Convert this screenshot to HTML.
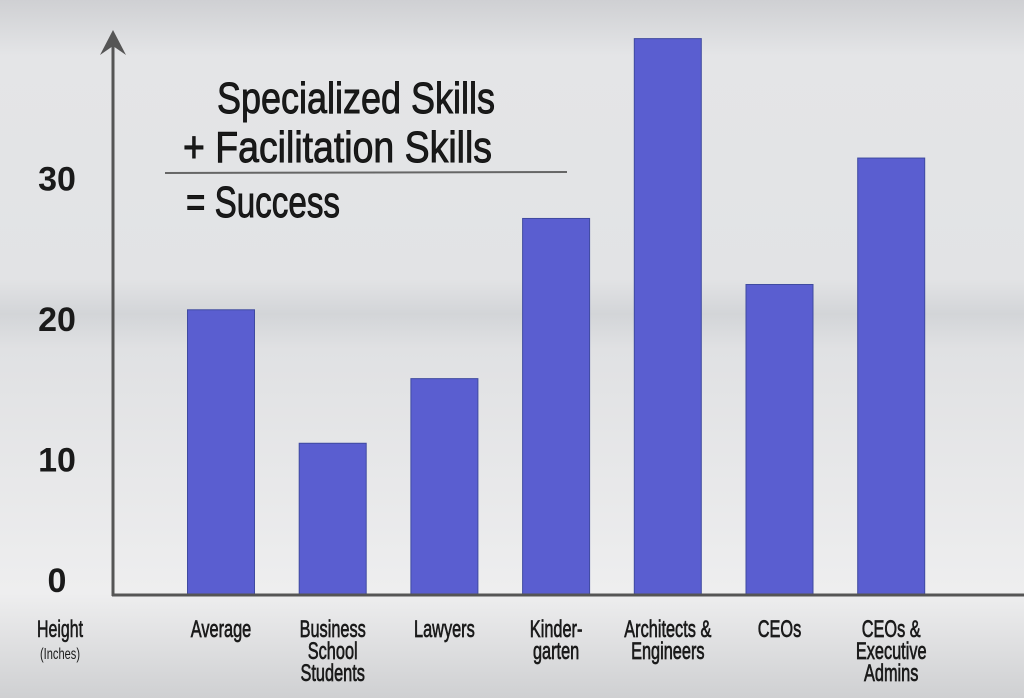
<!DOCTYPE html>
<html><head><meta charset="utf-8"><style>
html,body{margin:0;padding:0;width:1024px;height:698px;overflow:hidden}
svg{display:block}
text{font-family:"Liberation Sans Narrow","Liberation Sans",sans-serif;fill:#1a1a1a}
</style></head><body>
<svg id="chart" width="1024" height="698" viewBox="0 0 1024 698">
<defs>
<linearGradient id="bg" x1="0" y1="0" x2="0" y2="1">
<stop offset="0" stop-color="#cfd0d3"/>
<stop offset="0.08" stop-color="#e4e5e7"/>
<stop offset="0.4" stop-color="#e2e3e5"/>
<stop offset="0.45" stop-color="#d3d5d8"/>
<stop offset="0.5" stop-color="#e0e1e3"/>
<stop offset="0.85" stop-color="#eeeeef"/>
<stop offset="1" stop-color="#cfd0d2"/>
</linearGradient>
</defs>
<rect x="0" y="0" width="1024" height="698" fill="url(#bg)"/>
<g id="bars"></g>
<line x1="113" y1="34" x2="113" y2="596" stroke="#555" stroke-width="3"/>
<path d="M100 55 L113 30 L126 55 L113 46 Z" fill="#555"/>
<line x1="112" y1="595" x2="1024" y2="595" stroke="#555" stroke-width="3"/>
<g id="ticks"></g>
<g id="cats"></g>
<text x="60" y="637" font-size="24" text-anchor="middle" textLength="46" lengthAdjust="spacingAndGlyphs" stroke="#1a1a1a" stroke-width="0.6">Height</text>
<text x="60" y="659" font-size="16" text-anchor="middle" textLength="40" lengthAdjust="spacingAndGlyphs">(Inches)</text>
<g stroke="#111" stroke-width="0.9">
<text x="217" y="113" font-size="44" textLength="278" lengthAdjust="spacingAndGlyphs">Specialized Skills</text>
<text x="183" y="162" font-size="44" textLength="309" lengthAdjust="spacingAndGlyphs">+ Facilitation Skills</text>
<line x1="165" y1="173" x2="567" y2="172" stroke="#666" stroke-width="2"/>
<text x="186" y="217" font-size="44" textLength="154" lengthAdjust="spacingAndGlyphs">= Success</text>
</g>
</svg>
<script>
const categories=[["Average"],["Business","School","Students"],["Lawyers"],["Kinder-","garten"],["Architects &","Engineers"],["CEOs"],["CEOs &","Executive","Admins"]];
const values=[20.3,10.8,15.4,26.8,39.6,22.1,31.1];
const tickValues=[0,10,20,30];
const tickLabels=["0","10","20","30"];
const NS="http://www.w3.org/2000/svg";
const y0=595,pxPer=14.05;
function yScale(v){return y0-v*pxPer;}
function xCenter(i){return 221+i*111.7;}
const barW=67;
const bars=document.getElementById('bars');
values.forEach((v,i)=>{
 const r=document.createElementNS(NS,'rect');
 
 
 r.setAttribute('x',xCenter(i)-barW/2);
 r.setAttribute('y',yScale(v));
 r.setAttribute('width',barW);
 r.setAttribute('height',y0-yScale(v));
 r.setAttribute('fill','#5a5ed0');
 r.setAttribute('stroke','#3f4aa0');
 r.setAttribute('stroke-width','1');
 bars.appendChild(r);
});
const ticks=document.getElementById('ticks');
tickValues.forEach((v,i)=>{
 const t=document.createElementNS(NS,'text');
 
 
 t.setAttribute('x',57);
 t.setAttribute('y',Math.min(yScale(v)+17,592));
 t.setAttribute('text-anchor','middle');
 t.setAttribute('font-size','34');
 t.setAttribute('font-weight','bold');
 t.setAttribute('style','font-family:"Liberation Sans",sans-serif');
 t.textContent=tickLabels[i];
 ticks.appendChild(t);
});
const cats=document.getElementById('cats');
categories.forEach((lines,i)=>{
 const t=document.createElementNS(NS,'text');
 
 
 t.setAttribute('text-anchor','middle');
 t.setAttribute('font-size','24');
 t.setAttribute('stroke','#1a1a1a');
 t.setAttribute('stroke-width','0.7');
 t.setAttribute('transform','translate('+xCenter(i)+',0) scale(0.68,1)');
 lines.forEach((ln,j)=>{
  const s=document.createElementNS(NS,'tspan');
  s.setAttribute('x',0);
  s.setAttribute('y',637+j*22);
  s.textContent=ln;
  t.appendChild(s);
 });
 cats.appendChild(t);
});
</script>
</body></html>
